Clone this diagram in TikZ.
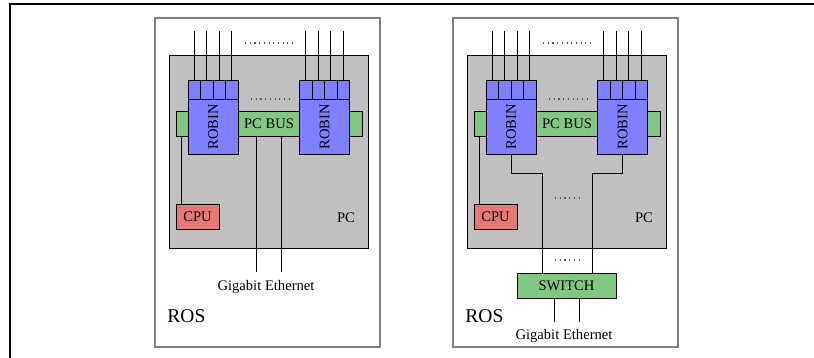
\documentclass[tikz,border=0pt]{standalone}
\usepackage{fontspec}
\setmainfont{Liberation Serif}
\usetikzlibrary{positioning}
\definecolor{robinblue}{RGB}{128,128,255}
\definecolor{busgreen}{RGB}{128,200,128}
\definecolor{cpured}{RGB}{230,120,120}
\definecolor{pcgray}{RGB}{192,192,192}
\definecolor{rosgray}{RGB}{128,128,128}

\begin{document}
\begin{tikzpicture}[x=1pt,y=-1pt,
  txt/.style={font=\fontsize{14.6}{17}\selectfont},
  box/.style={draw,line width=0.8pt,inner sep=0pt,txt},
  rosbox/.style={draw=rosgray,line width=1.2pt,fill=white,minimum width=225pt,minimum height=329pt},
  pcbox/.style={box,fill=pcgray,minimum width=199pt,minimum height=193pt},
  busbox/.style={box,fill=busgreen,minimum width=186pt,minimum height=25pt},
  robinbox/.style={box,fill=robinblue,minimum width=50pt,minimum height=74pt},
  portbox/.style={box,fill=robinblue,minimum width=12.5pt,minimum height=19pt},
  cpubox/.style={box,fill=cpured,minimum width=43pt,minimum height=25pt},
  switchbox/.style={box,fill=busgreen,minimum width=99pt,minimum height=25pt},
  wire/.style={line width=0.8pt},
  dotrow/.style={line width=1.1pt,black!65,dash pattern=on 1.1pt off 3.6pt},
  lbl/.style={txt,inner sep=0pt}]
\useasboundingbox (0,0) rectangle (814,358);
% page frame
\draw[line width=1.2pt] (814,4) -- (10,4) -- (10,358);

% the two ROS boxes
\foreach \s/\dx in {a/0,b/298}{
  \begin{scope}[xshift=\dx pt]
    \node[rosbox] (ros\s) at (267.5,182.5) {};
    \node[pcbox] (pc\s) at (268.5,151.5) {};
    \node[busbox] (bus\s) at (269,123.5) {};
    \node[robinbox] (robl\s) at (213,117) {};
    \node[robinbox] (robr\s) at (324.5,117) {};
    \coordinate (top\s) at (0,31);
    \foreach \r in {robl,robr}
      \foreach \p in {1,...,4}{
        \node[portbox,anchor=north west] (\r\s\p) at ([xshift={(\p-1)*12.5pt}]\r\s.north west) {};
        \draw[wire] (\r\s\p.north) -- (\r\s\p.north |- top\s);
      }
    \node[lbl,rotate=90] at ([yshift=-10pt]robl\s.center) {ROBIN};
    \node[lbl,rotate=90] at ([yshift=-10pt]robr\s.center) {ROBIN};
    \node[lbl] at (bus\s.center) {PC BUS};
    \node[cpubox] (cpu\s) at (197.5,216.5) {CPU};
    \draw[wire] ([xshift=6pt]cpu\s.north west) -- ([xshift=6pt]bus\s.south west);
    \node[lbl] (pclbl\s) at (346,218) {PC};
    \node[lbl,font=\fontsize{19.5}{22}\selectfont] (roslbl\s) at ([xshift=32pt,yshift=31pt]ros\s.south west) {ROS};
    \draw[dotrow] (245,43) -- (293,43);
    \draw[dotrow] (251,99) -- (289,99);
  \end{scope}
}

% left: links straight off the bus
\coordinate (gea) at (268,272);
\draw[wire] ([xshift=-12.5pt]busa.south) -- ([xshift=-12.5pt]busa.south |- gea);
\draw[wire] ([xshift=12.5pt]busa.south) -- ([xshift=12.5pt]busa.south |- gea);
\node[lbl] (gbea) at (266,287) {Gigabit Ethernet};

% right: links through the switch
\node[switchbox] (switch) at (566.5,285.5) {SWITCH};
\draw[wire] (roblb.south) -- ++(0,19) -| ([xshift=-24.5pt]switch.north);
\draw[wire] (robrb.south) -- ++(0,19) -| ([xshift=25.5pt]switch.north);
\draw[dotrow] (555,198) -- (580,198);
\draw[dotrow] (555,260) -- (580,260);
\coordinate (geb) at (566,322);
\draw[wire] ([xshift=-12.5pt]switch.south) -- ([xshift=-12.5pt]switch.south |- geb);
\draw[wire] ([xshift=12.5pt]switch.south) -- ([xshift=12.5pt]switch.south |- geb);
\node[lbl] (gbeb) at (564,336) {Gigabit Ethernet};
\end{tikzpicture}
\end{document}
